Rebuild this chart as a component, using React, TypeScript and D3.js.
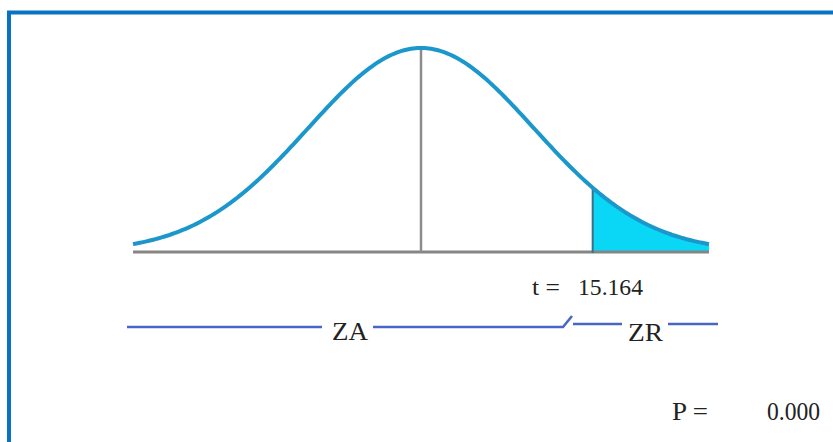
import React, { useEffect, useRef } from 'react';
import * as d3 from 'd3';

// distribution shown (standard normal, z units)
const zRange = [-2.55, 2.55];
const criticalZ = 1.52;

// labels
const tLabel = 't =';
const tValue = '15.164';
const regionLabels = ['ZA', 'ZR'];
const pLabel = 'P =';
const pValue = '0.000';

const pdf = (z: number) => Math.exp(-z * z / 2) / Math.sqrt(2 * Math.PI);

const App = () => {
    const chartRef = useRef<SVGSVGElement>(null);

    useEffect(() => {
        const svg = d3.select(chartRef.current);
        svg.selectAll('*').remove();

        // frame
        svg.append('rect')
            .attr('x', 9).attr('y', 12.5)
            .attr('width', 900).attr('height', 500)
            .attr('fill', 'none')
            .attr('stroke', '#0a72c2')
            .attr('stroke-width', 4);

        const x = d3.scaleLinear().domain(zRange).range([133, 709]);
        const y = d3.scaleLinear().domain([0, pdf(0)]).range([252, 48]);

        const pts = d3.range(zRange[0], zRange[1] + 0.001, 0.02).map(z => ({ z, d: pdf(z) }));
        const tail = pts.filter(p => p.z >= criticalZ - 1e-9);
        tail.unshift({ z: criticalZ, d: pdf(criticalZ) });

        // rejection region
        svg.append('path')
            .datum(tail)
            .attr('fill', '#0ad6f6')
            .attr('d', d3.area<any>().x(p => x(p.z)).y0(y(0)).y1(p => y(p.d)));

        // baseline + center line
        svg.append('line')
            .attr('x1', x(zRange[0])).attr('x2', x(zRange[1]))
            .attr('y1', y(0)).attr('y2', y(0))
            .attr('stroke', '#858585').attr('stroke-width', 3);
        svg.append('line')
            .attr('x1', x(0)).attr('x2', x(0))
            .attr('y1', y(0)).attr('y2', y(pdf(0)))
            .attr('stroke', '#8c8c8c').attr('stroke-width', 2.5);

        // critical value line
        svg.append('line')
            .attr('x1', x(criticalZ)).attr('x2', x(criticalZ))
            .attr('y1', y(0) + 1).attr('y2', y(pdf(criticalZ)))
            .attr('stroke', '#3a6f86').attr('stroke-width', 2);

        // curve
        svg.append('path')
            .datum(pts)
            .attr('fill', 'none')
            .attr('stroke', '#1b97cc')
            .attr('stroke-width', 4)
            .attr('d', d3.line<any>().x(p => x(p.z)).y(p => y(p.d)));

        // acceptance / rejection bracket
        const zc = '#4866c4';
        svg.append('path')
            .attr('fill', 'none').attr('stroke', zc).attr('stroke-width', 2.5)
            .attr('d', 'M127,327H322M373,327H563L572,316');
        svg.append('path')
            .attr('fill', 'none').attr('stroke', zc).attr('stroke-width', 2.5)
            .attr('d', 'M573,324H622M668,324H718');

        const txt = (s: string, tx: number, ty: number, size: number, len: number) =>
            svg.append('text')
                .attr('x', tx).attr('y', ty)
                .attr('font-family', 'Times New Roman, Liberation Serif, DejaVu Serif, serif')
                .attr('font-size', size)
                .attr('fill', '#222')
                .attr('textLength', len)
                .attr('lengthAdjust', 'spacingAndGlyphs')
                .text(s);

        txt(tLabel, 532, 295, 23, 28);
        txt(tValue, 578, 295, 23, 65);
        txt(regionLabels[0], 332, 340, 26, 36);
        txt(regionLabels[1], 628, 341, 25, 35);
        txt(pLabel, 672, 420, 26, 36);
        txt(pValue, 767, 420, 26, 53);
    }, []);

    return (
        <svg ref={chartRef} width={833} height={442}
            style={{ position: 'absolute', left: 0, top: 0, background: '#fff' }} />
    );
};

export default App;
